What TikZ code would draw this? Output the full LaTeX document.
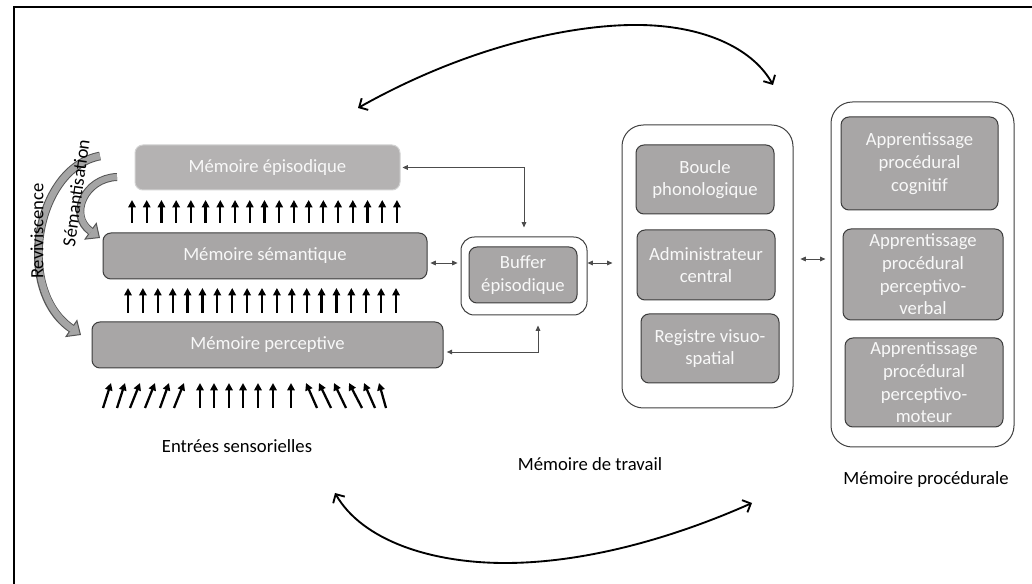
\documentclass[tikz,border=0pt]{standalone}
\usepackage{fontspec}
\setmainfont{Carlito}
\usetikzlibrary{arrows.meta,fit,calc}
\definecolor{boxgray}{RGB}{168,166,166}
\definecolor{epigray}{RGB}{180,178,178}
\definecolor{boxedge}{RGB}{60,60,60}
\definecolor{epiedge}{RGB}{210,210,210}
\definecolor{boxtext}{RGB}{248,248,248}
\definecolor{arcfill}{RGB}{165,165,165}
\definecolor{arcedge}{RGB}{85,85,85}
\tikzset{
  tipS/.tip={Triangle[length=4pt,width=3.5pt]},
  tipU/.tip={Triangle[length=5.5pt,width=5.5pt]},
  tipB/.tip={Straight Barb[length=5pt,width=10pt,line width=1.4pt]},
  tipG/.tip={Triangle[length=9pt,width=16pt,line width=0.75pt,fill=arcfill]},
}
\begin{document}
\begin{tikzpicture}[x=0.75pt,y=-0.75pt,
  every node/.style={font=\fontsize{14}{17}\selectfont, align=center},
  box/.style={draw=boxedge, line width=0.75pt, fill=boxgray, rounded corners=6pt, inner sep=0pt},
  epibox/.style={box, draw=epiedge, fill=epigray},
  boxtxt/.style={text=boxtext, inner sep=0pt},
  container/.style={draw=black!75, line width=0.75pt, fill=white, rounded corners=16pt, inner sep=0pt},
  bufcontainer/.style={container, rounded corners=10pt},
  conn/.style={draw=black!70, line width=0.6pt, tipS-tipS},
  uparr/.style={line width=1.7pt, -tipU},
  bigarc/.style={line width=1.4pt, tipB-tipB},
  lbl/.style={text=black},
]
\useasboundingbox (0,0) rectangle (1032,584);
% frame
\draw[line width=1.8pt] (14,584) -- (14,7) -- (1032,7);

% left memory boxes
\node[epibox, fit={(135,145) (400,190)}] (epi) {};
\node[box, fit={(103,233) (427,279)}] (sem) {};
\node[box, fit={(92,322) (443,368)}] (per) {};
\node[boxtxt] (epit) at (epi.center) {Mémoire épisodique};
\node[boxtxt] (semt) at (sem.center) {Mémoire sémantique};
\node[boxtxt] (pert) at (per.center) {Mémoire perceptive};

% up arrow rows
\foreach \i in {0,...,18} { \draw[uparr] ({132+14.72*\i},223) -- ({132+14.72*\i},200); }
\foreach \i in {0,...,18} { \draw[uparr] ({128+14.89*\i},313) -- ({128+14.89*\i},288); }
\foreach \a/\b in {103/111,117/125,130/140,145/155,160/169,174/184,
                   200/200,214/214,229/229,243/243,258/258,273/273,291/291,
                   317/306,331/319,346/334,362/349,375/364,386/379}
  { \draw[uparr] (\a,408) -- (\b,383); }

% buffer
\node[bufcontainer, fit={(461,237) (587,315)}] (buf) {};
\node[box, fit={(469,247) (577,303)}] (bufin) {};
\node[boxtxt] (bufint) at (bufin.center) {Buffer\\épisodique};

% working memory
\node[container, fit={(622,125) (793,408)}] (wm) {};
\node[box, fit={(636,145) (774,214)}] (boucle) {};
\node[box, fit={(637,230) (775,300)}] (admin) {};
\node[box, fit={(641,314) (779,383)}] (regis) {};
\node[boxtxt] (bouclet) at (boucle.center) {Boucle\\phonologique};
\node[boxtxt] (admint) at (admin.center) {Administrateur\\central};
\node[boxtxt] (regist) at (regis.center) {Registre visuo-\\spatial};

% procedural memory
\node[container, fit={(831,102) (1014,447)}] (proc) {};
\node[box, fit={(841,117) (998,210)}] (pcog) {};
\node[box, fit={(843,229) (1003,320)}] (pverb) {};
\node[box, fit={(845,338) (1003,427)}] (pmot) {};
\node[boxtxt] (pcogt) at (pcog.center) {Apprentissage\\procédural\\cognitif};
\node[boxtxt] (pverbt) at (pverb.center) {Apprentissage\\procédural\\perceptivo-\\verbal};
\node[boxtxt] (pmott) at (pmot.center) {Apprentissage\\procédural\\perceptivo-\\moteur};

% labels
\node[lbl] (entrees) at (237,446) {Entrées sensorielles};
\node[lbl] (travail) at (590,464) {Mémoire de travail};
\node[lbl] (procl) at (926,480) {Mémoire procédurale};

% small connectors
\coordinate (h263) at (0,263);
\coordinate (h259) at (0,259);
\draw[conn, shorten <=1.5pt, shorten >=6.8pt] (epi.east) -| (buf.north);
\draw[conn, shorten <=2.5pt, shorten >=7.5pt] ([yshift=-5.25pt]per.east) -| ([xshift=10.5pt]buf.south);
\draw[conn, shorten <=2.2pt, shorten >=2.2pt] (sem.east |- h263) -- (buf.west |- h263);
\draw[conn, shorten >=6.8pt] (buf.east |- h263) -- (wm.west |- h263);
\draw[conn, shorten <=5.2pt, shorten >=3.8pt] (wm.east |- h259) -- (proc.west |- h259);

% big curved arrows
\coordinate (tl) at (358,108);
\coordinate (tr) at (773,85);
\coordinate (bl) at (335,493);
\coordinate (br) at (752,503);
\draw[bigarc] (tl) .. controls (470,45) and (575,24) .. (640,25) .. controls (710,26) and (755,52) .. (tr);
\draw[bigarc] (bl) .. controls (362,540) and (430,563) .. (505,563) .. controls (590,563) and (680,535) .. (br);

% gray curved block arrows
\draw[draw=arcedge, line width=6.5pt, -tipG] (100,156) .. controls (35,168) and (15,290) .. (81,335);
\draw[draw=arcfill, line width=5pt, shorten >=8pt] (100,156) .. controls (35,168) and (15,290) .. (81,335);
\draw[draw=arcedge, line width=6pt, -tipG] (117,177) .. controls (85,178) and (68,215) .. (100,238);
\draw[draw=arcfill, line width=4.5pt, shorten >=8pt] (117,177) .. controls (85,178) and (68,215) .. (100,238);

% rotated labels
\node[lbl, rotate=90] (revi) at (37,231) {Reviviscence};
\node[lbl, rotate=82] (sema) at (76,193) {Sémantisation};
\end{tikzpicture}
\end{document}
